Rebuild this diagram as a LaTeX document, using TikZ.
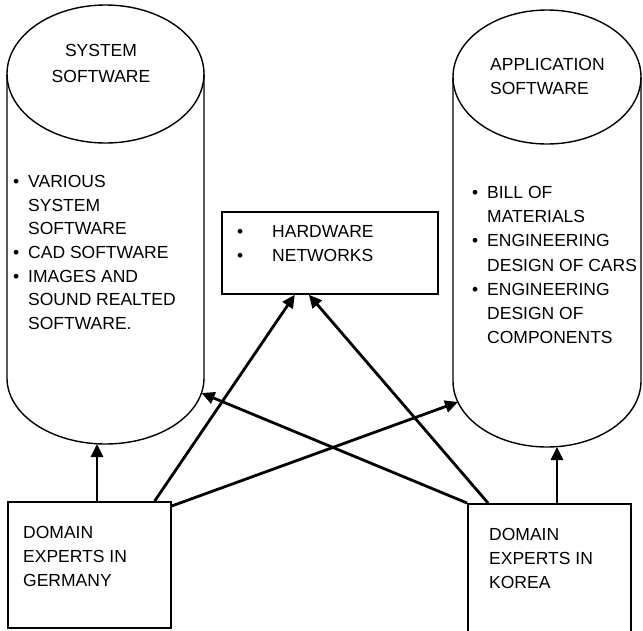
\documentclass[tikz,border=0pt]{standalone}
\usepackage{fontspec}
\setmainfont{Liberation Sans}
\usetikzlibrary{arrows.meta}
\newcommand{\itembullet}[1]{\llap{\textbullet\hspace{#1}}}
\begin{document}
\begin{tikzpicture}[x=1pt,y=-1pt,
  outline/.style={line width=1.4pt},
  boxnode/.style={draw, line width=1.7pt, inner sep=0pt, anchor=north west},
  txt/.style={inner sep=0pt, anchor=north west, align=left},
  link/.style={line width=2.8pt, -{Triangle[length=13pt,width=12pt]}}
]
\useasboundingbox (0,0) rectangle (643,630);
\clip (0,0) rectangle (643,630);

% system software cylinder
\draw[outline] (105.5,74) ellipse [x radius=98.5pt, y radius=69pt];
\draw[outline] (7,74) -- (7,378) arc[start angle=180, end angle=360, x radius=98.5pt, y radius=66pt] -- (204,74);

% application software cylinder
\draw[outline] (547,77) ellipse [x radius=94pt, y radius=67pt];
\draw[outline] (453,77) -- (453,381) arc[start angle=180, end angle=360, x radius=94pt, y radius=66pt] -- (641,77);

% connector targets on the cylinders
\coordinate (sysbot) at (97,444);
\coordinate (appbot) at (557,447);
\coordinate (sysside) at (201.5,393);
\coordinate (appside) at (458,402);

% boxes
\node[boxnode, minimum width=163pt, minimum height=126pt] (germany) at (7,501) {};
\node[boxnode, minimum width=163pt, minimum height=145pt] (korea) at (467,503) {};
\node[boxnode, minimum width=216pt, minimum height=82pt] (hw) at (221,211) {};

% texts
\node[txt, anchor=north, align=center, font=\fontsize{17.5}{26}\selectfont] (systitle) at (101,44) {SYSTEM\\SOFTWARE};
\node[txt, font=\fontsize{17.5}{24}\selectfont] (apptitle) at (490,58) {APPLICATION\\SOFTWARE};
\node[txt, font=\fontsize{17.5}{23.7}\selectfont] (syslist) at (28,175)
  {\itembullet{9pt}VARIOUS\\SYSTEM\\SOFTWARE\\\itembullet{9pt}CAD SOFTWARE\\\itembullet{9pt}IMAGES AND\\SOUND REALTED\\SOFTWARE.};
\node[txt, font=\fontsize{17.5}{24.2}\selectfont] (applist) at (487,186)
  {\itembullet{9pt}BILL OF\\MATERIALS\\\itembullet{9pt}ENGINEERING\\DESIGN OF CARS\\\itembullet{9pt}ENGINEERING\\DESIGN OF\\COMPONENTS};
\node[txt, font=\fontsize{17.5}{24}\selectfont] (hwlist) at (272,225)
  {\itembullet{29pt}HARDWARE\\\itembullet{29pt}NETWORKS};
\node[txt, font=\fontsize{17.5}{24}\selectfont] (germanytext) at (23,526) {DOMAIN\\EXPERTS IN\\GERMANY};
\node[txt, font=\fontsize{17.5}{24}\selectfont] (koreatext) at (489,528) {DOMAIN\\EXPERTS IN\\KOREA};

% connectors
\draw[link] (germany.north -| sysbot) -- (sysbot);
\draw[link] (korea.north -| appbot) -- (appbot);
\draw[link] ([xshift=-17pt]germany.north east) -- ([xshift=-35pt]hw.south);
\draw[link] ([yshift=-5pt]germany.north east) -- (appside);
\draw[link] (korea.north west) -- (sysside);
\draw[link] ([xshift=21pt]korea.north west) -- ([xshift=-21pt]hw.south);
\end{tikzpicture}
\end{document}
